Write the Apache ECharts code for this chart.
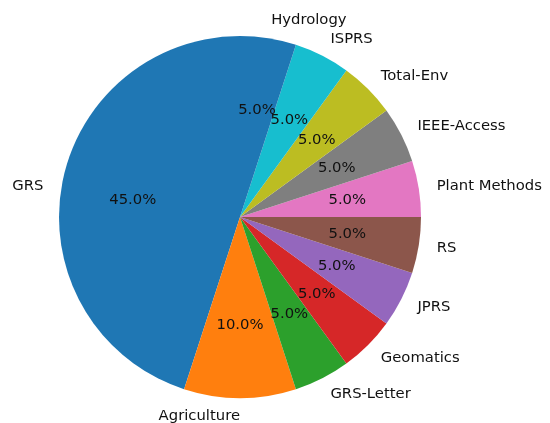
<!DOCTYPE html>
<html><head><meta charset="utf-8">
<script src="https://cdn.jsdelivr.net/npm/echarts@6/dist/echarts.min.js"></script>
<style>html,body{margin:0;padding:0;background:#fff}#c{width:550px;height:423px}</style>
</head><body><div id="c"></div>
<script>
const categories = ['GRS','Agriculture','GRS-Letter','Geomatics','JPRS','RS','Plant Methods','IEEE-Access','Total-Env','ISPRS','Hydrology'];
const values = [9,2,1,1,1,1,1,1,1,1,1];
const colors = ['#1f77b4','#ff7f0e','#2ca02c','#d62728','#9467bd','#8c564b','#e377c2','#7f7f7f','#bcbd22','#17becf','#1f77b4'];

const R = 181, CX = 240, CY = 217;
const total = values.reduce((a,b)=>a+b,0);
const font = {fontFamily:'DejaVu Sans', fontSize:14.8, color:'#111'};
const data = categories.map((c,i)=>({name:c, value:values[i], itemStyle:{color:colors[i]}}));

const chart = echarts.init(document.getElementById('c'), null, {renderer:'canvas'});
chart.setOption({
  backgroundColor:'#fff',
  animation:false,
  series:[
    {
      type:'pie', center:[CX,CY], radius:[0,R], startAngle:90, clockwise:false,
      avoidLabelOverlap:false, silent:true,
      data:data,
      labelLayout:function(p){
        // matplotlib right-aligns a label whose x is exactly at the centre (bottom slice)
        if (categories[p.dataIndex] === 'Agriculture') return {hideOverlap:false, align:'right'};
        return {hideOverlap:false};
      },
      label:Object.assign({show:true, position:'outside', distanceToLabelLine:0, formatter:'{b}', verticalAlign:'middle'}, font),
      labelLine:{show:false, length:0.1*R, length2:0}
    },
    {
      type:'pie', center:[CX,CY], radius:[0.6*R*2 - R - 6, R], startAngle:90, clockwise:false,
      avoidLabelOverlap:false, silent:true,
      labelLayout:{hideOverlap:false},
      data:categories.map((c,i)=>({name:c, value:values[i], itemStyle:{color:'rgba(0,0,0,0)'}})),
      label:Object.assign({show:true, position:'inside', rotate:0, formatter:p=>(p.value/total*100).toFixed(1)+'%'}, font),
      labelLine:{show:false}
    }
  ]
});
</script></body></html>
